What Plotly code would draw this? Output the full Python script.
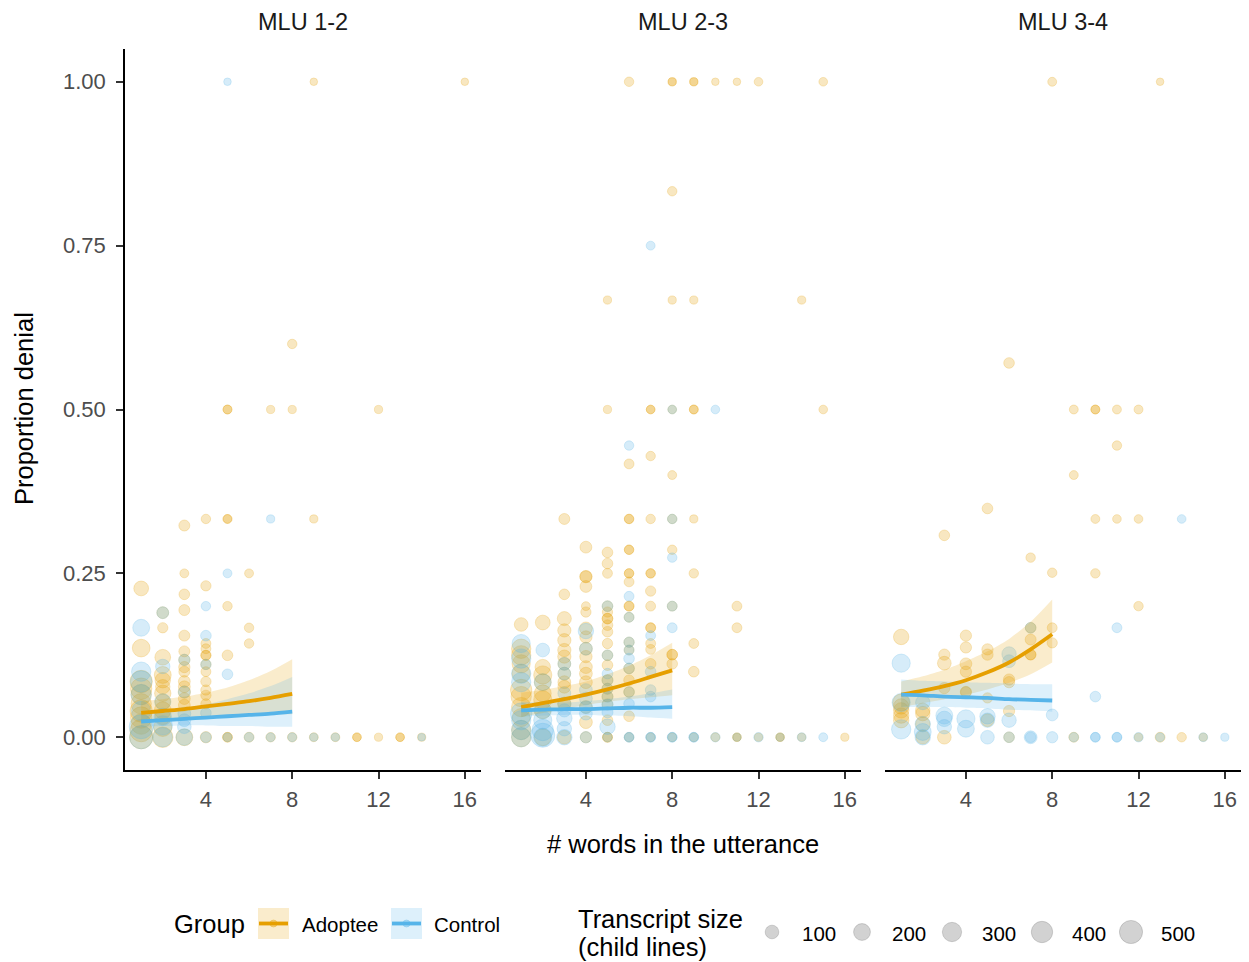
import plotly.graph_objects as go

W, H = 1249, 962
FONT = "Liberation Sans, Arial, Helvetica, sans-serif"

PANELS = ["MLU 1-2", "MLU 2-3", "MLU 3-4"]
GROUPS = ["Adoptee", "Control"]
X_TICKS = [4, 8, 12, 16]
Y_TICKS = [0.0, 0.25, 0.50, 0.75, 1.00]
SIZE_BREAKS = [100, 200, 300, 400, 500]

# one row per transcript and utterance length: (words, proportion denial, child lines)
ADOPTEE_MLU12 = [
    (9, 1.0, 12), (16, 1.0, 12), (8, 0.6, 25),
    (5, 0.5, 20), (5, 0.5, 20), (7, 0.5, 15), (8, 0.5, 15), (12, 0.5, 15),
    (4, 0.333, 25), (5, 0.333, 20), (5, 0.333, 20), (9, 0.333, 15), (3, 0.323, 45),
    (3, 0.25, 20), (6, 0.25, 20), (4, 0.231, 35), (1, 0.227, 130), (3, 0.218, 40),
    (5, 0.2, 25), (3, 0.194, 45), (2, 0.19, 60), (2, 0.167, 35), (6, 0.167, 25),
    (3, 0.155, 45), (4, 0.143, 30), (6, 0.143, 25), (1, 0.136, 230), (4, 0.135, 30),
    (3, 0.131, 45), (4, 0.125, 35), (4, 0.125, 30), (5, 0.125, 40), (2, 0.122, 160),
    (3, 0.118, 50), (4, 0.111, 35), (3, 0.107, 50), (3, 0.1, 45), (4, 0.1, 30),
    (2, 0.095, 200), (1, 0.085, 450), (2, 0.087, 150), (3, 0.085, 60), (4, 0.085, 35),
    (1, 0.074, 400), (2, 0.077, 120), (3, 0.077, 60), (4, 0.072, 35), (2, 0.067, 180),
    (3, 0.069, 70), (1, 0.065, 350), (4, 0.064, 35), (3, 0.059, 60), (1, 0.051, 350),
    (2, 0.054, 150), (4, 0.051, 35), (3, 0.049, 60), (1, 0.04, 450), (2, 0.041, 200),
    (1, 0.03, 400), (1, 0.02, 350), (2, 0.031, 150), (1, 0.01, 450), (2, 0.015, 250),
    (1, 0.0, 500), (2, 0.0, 350), (3, 0.0, 200), (4, 0.0, 50), (5, 0.0, 30), (5, 0.0, 25),
    (6, 0.0, 30), (7, 0.0, 25), (8, 0.0, 25), (9, 0.0, 20), (10, 0.0, 20), (11, 0.0, 18),
    (11, 0.0, 18), (12, 0.0, 15), (13, 0.0, 18), (13, 0.0, 18), (14, 0.0, 15),
]
CONTROL_MLU12 = [
    (5, 1.0, 12), (7, 0.333, 15), (5, 0.25, 20), (4, 0.2, 25), (2, 0.19, 60),
    (1, 0.167, 200), (4, 0.155, 40), (4, 0.111, 35), (2, 0.108, 120), (1, 0.1, 300),
    (5, 0.096, 40), (1, 0.085, 400), (3, 0.118, 50), (3, 0.069, 60),
    (1, 0.065, 350), (2, 0.054, 180), (4, 0.037, 40), (3, 0.036, 80),
    (3, 0.026, 80), (2, 0.031, 220), (1, 0.04, 300), (1, 0.016, 550), (2, 0.018, 300),
    (3, 0.016, 100),
    (1, 0.0, 500), (2, 0.0, 300), (3, 0.0, 180), (4, 0.0, 40), (5, 0.0, 20), (6, 0.0, 25),
    (7, 0.0, 20), (8, 0.0, 20), (9, 0.0, 15), (10, 0.0, 15), (14, 0.0, 12),
]

ADOPTEE_MLU23 = [
    (6, 1.0, 25), (8, 1.0, 15), (8, 1.0, 15), (9, 1.0, 15), (9, 1.0, 15), (10, 1.0, 12),
    (11, 1.0, 12), (12, 1.0, 18), (15, 1.0, 18), (8, 0.833, 25),
    (5, 0.667, 15), (8, 0.667, 15), (9, 0.667, 15), (14, 0.667, 15),
    (5, 0.5, 15), (7, 0.5, 18), (7, 0.5, 18), (8, 0.5, 18), (9, 0.5, 20), (9, 0.5, 20),
    (15, 0.5, 18), (7, 0.429, 25), (6, 0.417, 30), (8, 0.4, 20),
    (3, 0.333, 45), (6, 0.333, 25), (6, 0.333, 25), (7, 0.333, 25), (8, 0.333, 25),
    (9, 0.333, 15), (4, 0.29, 60), (6, 0.286, 25), (6, 0.286, 25), (8, 0.286, 25),
    (5, 0.282, 40), (5, 0.265, 40), (5, 0.25, 30), (6, 0.25, 25), (6, 0.25, 25),
    (7, 0.25, 25), (7, 0.25, 25), (9, 0.25, 25), (4, 0.245, 70), (4, 0.245, 60),
    (6, 0.237, 30), (4, 0.23, 60), (7, 0.223, 35), (3, 0.218, 40),
    (4, 0.2, 20), (5, 0.2, 40), (6, 0.2, 30), (6, 0.2, 30), (7, 0.2, 30), (8, 0.2, 30),
    (11, 0.2, 30), (4, 0.191, 35), (5, 0.191, 35), (5, 0.181, 40), (5, 0.181, 40),
    (6, 0.183, 30), (3, 0.181, 110), (1, 0.172, 100), (2, 0.175, 130), (5, 0.171, 40),
    (7, 0.167, 30), (7, 0.167, 30), (11, 0.167, 30), (4, 0.166, 80), (3, 0.163, 90),
    (5, 0.161, 40), (4, 0.153, 70), (3, 0.148, 90), (5, 0.143, 35), (7, 0.143, 30),
    (9, 0.143, 30), (6, 0.145, 35), (4, 0.135, 80), (1, 0.135, 300), (3, 0.133, 90),
    (7, 0.134, 30), (6, 0.133, 30), (1, 0.125, 300), (4, 0.123, 70), (3, 0.123, 90),
    (8, 0.126, 40), (8, 0.126, 40), (5, 0.125, 40), (1, 0.112, 250), (3, 0.112, 80),
    (5, 0.11, 40), (7, 0.112, 40), (8, 0.112, 40), (2, 0.107, 150), (4, 0.107, 80),
    (6, 0.105, 40), (3, 0.097, 80), (1, 0.097, 250), (2, 0.095, 250), (4, 0.097, 80),
    (9, 0.1, 40), (5, 0.087, 45), (6, 0.087, 40), (2, 0.084, 200), (3, 0.084, 80),
    (4, 0.084, 80), (3, 0.077, 80), (1, 0.072, 400), (5, 0.074, 45), (6, 0.069, 40),
    (2, 0.067, 200), (1, 0.062, 350), (5, 0.062, 45), (2, 0.057, 250), (3, 0.051, 90),
    (4, 0.046, 80), (5, 0.05, 45), (1, 0.046, 300), (2, 0.041, 200), (6, 0.032, 40),
    (5, 0.026, 40), (4, 0.023, 80), (1, 0.03, 250), (1, 0.011, 300),
    (1, 0.0, 300), (2, 0.0, 200), (3, 0.0, 100), (4, 0.0, 50), (5, 0.0, 30), (5, 0.0, 30),
    (6, 0.0, 25), (7, 0.0, 20), (8, 0.0, 20), (9, 0.0, 20), (10, 0.0, 20), (11, 0.0, 18),
    (11, 0.0, 15), (12, 0.0, 15), (13, 0.0, 18), (13, 0.0, 15), (14, 0.0, 15), (16, 0.0, 15),
]
CONTROL_MLU23 = [
    (7, 0.75, 20), (6, 0.445, 25), (10, 0.5, 18), (8, 0.5, 18), (8, 0.333, 25),
    (8, 0.274, 25), (6, 0.215, 30), (5, 0.2, 40), (8, 0.2, 30), (6, 0.183, 30),
    (4, 0.162, 150), (8, 0.167, 30), (7, 0.155, 30), (1, 0.143, 250), (6, 0.145, 35),
    (2, 0.133, 100), (4, 0.135, 80), (6, 0.133, 30), (5, 0.125, 40), (6, 0.12, 40),
    (1, 0.12, 300), (3, 0.112, 80), (1, 0.097, 300), (3, 0.097, 80), (7, 0.1, 40),
    (6, 0.105, 40), (5, 0.097, 40), (5, 0.087, 45), (1, 0.084, 300), (2, 0.084, 200),
    (5, 0.074, 45), (4, 0.072, 80), (7, 0.072, 40), (6, 0.069, 40), (3, 0.067, 80),
    (5, 0.062, 45), (7, 0.062, 40), (4, 0.059, 80), (6, 0.051, 40), (3, 0.051, 90),
    (5, 0.05, 45), (4, 0.046, 80), (2, 0.041, 200), (3, 0.041, 90), (5, 0.038, 45),
    (1, 0.036, 400), (4, 0.036, 80), (3, 0.029, 150), (1, 0.026, 300), (2, 0.026, 250),
    (5, 0.016, 150), (3, 0.013, 120), (2, 0.011, 400), (1, 0.011, 300), (2, 0.003, 550),
    (1, 0.0, 300), (2, 0.0, 250), (3, 0.0, 150), (4, 0.0, 50), (5, 0.0, 25), (6, 0.0, 30),
    (6, 0.0, 25), (7, 0.0, 30), (7, 0.0, 25), (8, 0.0, 30), (8, 0.0, 25), (9, 0.0, 30),
    (9, 0.0, 25), (10, 0.0, 25), (11, 0.0, 15), (12, 0.0, 25), (13, 0.0, 15),
    (14, 0.0, 20), (15, 0.0, 20),
]

ADOPTEE_MLU34 = [
    (8, 1.0, 20), (13, 1.0, 12), (6, 0.571, 40),
    (9, 0.5, 20), (10, 0.5, 20), (10, 0.5, 20), (11, 0.5, 20), (12, 0.5, 20),
    (11, 0.445, 25), (9, 0.4, 20), (5, 0.349, 40),
    (10, 0.333, 20), (11, 0.333, 18), (12, 0.333, 18), (3, 0.308, 40), (7, 0.274, 25),
    (8, 0.251, 25), (10, 0.25, 25), (12, 0.2, 25), (7, 0.167, 40), (8, 0.167, 30),
    (1, 0.153, 150), (4, 0.155, 50), (7, 0.149, 45), (8, 0.144, 35), (4, 0.137, 50),
    (5, 0.134, 50), (5, 0.126, 50), (7, 0.126, 40), (7, 0.126, 40), (3, 0.126, 50),
    (3, 0.113, 100), (4, 0.112, 60), (4, 0.1, 50), (6, 0.088, 50), (6, 0.084, 50),
    (3, 0.075, 50), (4, 0.069, 50), (4, 0.069, 40), (5, 0.06, 35), (1, 0.053, 200),
    (1, 0.047, 150), (1, 0.041, 150), (1, 0.033, 150), (1, 0.026, 150),
    (2, 0.041, 120), (2, 0.036, 120), (2, 0.02, 120), (6, 0.04, 50), (5, 0.026, 80),
    (2, 0.0, 100), (3, 0.0, 100), (6, 0.0, 40), (9, 0.0, 30), (12, 0.0, 15),
    (13, 0.0, 30), (14, 0.0, 25), (15, 0.0, 15),
]
CONTROL_MLU34 = [
    (14, 0.333, 18), (11, 0.167, 30), (7, 0.167, 40), (6, 0.127, 120), (6, 0.116, 80),
    (1, 0.113, 250), (10, 0.062, 40), (1, 0.053, 250), (2, 0.053, 120), (8, 0.034, 60),
    (3, 0.033, 200), (3, 0.028, 150), (4, 0.028, 250), (4, 0.013, 200), (5, 0.032, 150),
    (5, 0.026, 120), (6, 0.026, 120), (1, 0.012, 300), (2, 0.02, 150), (2, 0.008, 200),
    (3, 0.016, 120), (2, 0.0, 150), (5, 0.0, 100), (6, 0.0, 40), (7, 0.0, 80),
    (7, 0.0, 40), (8, 0.0, 50), (9, 0.0, 25), (10, 0.0, 30), (10, 0.0, 25), (11, 0.0, 30),
    (11, 0.0, 25), (12, 0.0, 25), (13, 0.0, 20), (15, 0.0, 20), (16, 0.0, 15),
]

# logistic smooth (fit with 95% band), evaluated at 1..8 words
FIT_WORDS = [1, 2, 3, 4, 5, 6, 7, 8]
ADOPTEE_FIT = [
    [0.037, 0.040, 0.043, 0.047, 0.051, 0.055, 0.060, 0.066],
    [0.046, 0.052, 0.058, 0.065, 0.073, 0.082, 0.092, 0.102],
    [0.065, 0.071, 0.078, 0.087, 0.099, 0.114, 0.134, 0.157],
]
ADOPTEE_LO = [
    [0.024, 0.027, 0.030, 0.032, 0.034, 0.035, 0.035, 0.035],
    [0.031, 0.037, 0.043, 0.049, 0.054, 0.058, 0.061, 0.064],
    [0.046, 0.052, 0.058, 0.065, 0.073, 0.083, 0.096, 0.114],
]
ADOPTEE_HI = [
    [0.055, 0.058, 0.062, 0.068, 0.076, 0.087, 0.101, 0.119],
    [0.068, 0.072, 0.078, 0.085, 0.096, 0.109, 0.125, 0.144],
    [0.085, 0.093, 0.103, 0.116, 0.131, 0.150, 0.176, 0.210],
]
CONTROL_FIT = [
    [0.024, 0.026, 0.028, 0.030, 0.032, 0.034, 0.036, 0.039],
    [0.041, 0.042, 0.043, 0.043, 0.044, 0.045, 0.045, 0.046],
    [0.065, 0.064, 0.062, 0.061, 0.060, 0.058, 0.057, 0.056],
]
CONTROL_LO = [
    [0.016, 0.017, 0.018, 0.018, 0.017, 0.017, 0.016, 0.016],
    [0.031, 0.033, 0.034, 0.034, 0.033, 0.032, 0.030, 0.028],
    [0.046, 0.046, 0.046, 0.045, 0.044, 0.042, 0.041, 0.039],
]
CONTROL_HI = [
    [0.036, 0.039, 0.044, 0.050, 0.058, 0.067, 0.078, 0.092],
    [0.054, 0.053, 0.053, 0.055, 0.058, 0.062, 0.067, 0.073],
    [0.088, 0.086, 0.085, 0.084, 0.083, 0.082, 0.081, 0.081],
]

POINTS = {
    "Adoptee": [ADOPTEE_MLU12, ADOPTEE_MLU23, ADOPTEE_MLU34],
    "Control": [CONTROL_MLU12, CONTROL_MLU23, CONTROL_MLU34],
}
FITS = {
    "Adoptee": (ADOPTEE_FIT, ADOPTEE_LO, ADOPTEE_HI),
    "Control": (CONTROL_FIT, CONTROL_LO, CONTROL_HI),
}
RGB = {"Adoptee": (230, 159, 0), "Control": (86, 180, 233)}
POINT_ALPHA = 0.34
BAND_ALPHA = 0.2


def rgba(rgb, a):
    return "rgba(%d,%d,%d,%.3f)" % (rgb[0], rgb[1], rgb[2], a)


# area-style size scale over the transcript-size range
LINES_MIN, LINES_MAX = 10, 550


def diameter(lines):
    t = max(0.0, (lines - LINES_MIN) / (LINES_MAX - LINES_MIN)) ** 0.5
    return 6.5 + 17.5 * t


# layout geometry in pixels
PANEL_LEFT = [125, 505, 885]
PANEL_W = 356
PLOT_TOP, PLOT_BOTTOM = 49, 770


def fx(px):
    return px / W


def fy(py):
    return 1 - py / H


def axis_names(i):
    return ("x", "y") if i == 0 else ("x%d" % (i + 1), "y%d" % (i + 1))


fig = go.Figure()

# points
for i in range(3):
    xa, ya = axis_names(i)
    for g in GROUPS:
        pts = POINTS[g][i]
        fig.add_trace(go.Scatter(
            x=[p[0] for p in pts], y=[p[1] for p in pts],
            mode="markers", xaxis=xa, yaxis=ya, showlegend=False, hoverinfo="skip",
            marker=dict(size=[diameter(p[2]) for p in pts],
                        color=rgba(RGB[g], POINT_ALPHA),
                        line=dict(color=rgba(RGB[g], POINT_ALPHA), width=1)),
        ))

# confidence bands
for i in range(3):
    xa, ya = axis_names(i)
    for g in GROUPS:
        fit, lo, hi = FITS[g]
        fig.add_trace(go.Scatter(
            x=FIT_WORDS, y=lo[i], mode="lines",
            line=dict(width=0, shape="spline", smoothing=0.8),
            xaxis=xa, yaxis=ya, showlegend=False, hoverinfo="skip",
        ))
        fig.add_trace(go.Scatter(
            x=FIT_WORDS, y=hi[i], mode="lines", fill="tonexty",
            fillcolor=rgba(RGB[g], BAND_ALPHA),
            line=dict(width=0, shape="spline", smoothing=0.8),
            xaxis=xa, yaxis=ya, showlegend=False, hoverinfo="skip",
        ))

# fitted lines
for i in range(3):
    xa, ya = axis_names(i)
    for g in GROUPS:
        fit = FITS[g][0]
        fig.add_trace(go.Scatter(
            x=FIT_WORDS, y=fit[i], mode="lines",
            line=dict(color=rgba(RGB[g], 1), width=3.8, shape="spline", smoothing=0.8),
            xaxis=xa, yaxis=ya, showlegend=False, hoverinfo="skip",
        ))

layout = dict(
    width=W, height=H, margin=dict(l=0, r=0, t=0, b=0),
    paper_bgcolor="white", plot_bgcolor="white",
    font=dict(family=FONT, color="black"),
    showlegend=False,
)
ydom = [fy(PLOT_BOTTOM), fy(PLOT_TOP)]
for i in range(3):
    sx = "" if i == 0 else str(i + 1)
    layout["xaxis" + sx] = dict(
        domain=[fx(PANEL_LEFT[i]), fx(PANEL_LEFT[i] + PANEL_W)],
        range=[0.25, 16.75], anchor="y" + sx,
        tickvals=X_TICKS, ticktext=[str(v) for v in X_TICKS],
        showline=True, linecolor="black", linewidth=1.6,
        ticks="outside", ticklen=7, tickwidth=1.6, tickcolor="#333333",
        tickfont=dict(size=22, color="#4D4D4D", family=FONT),
        ticklabelstandoff=2,
        showgrid=False, zeroline=False, fixedrange=True,
    )
    ydict = dict(
        domain=ydom, range=[-0.05, 1.05], anchor="x" + sx,
        showgrid=False, zeroline=False, fixedrange=True,
    )
    if i == 0:
        ydict.update(
            tickvals=Y_TICKS, ticktext=["%.2f" % v for v in Y_TICKS],
            showline=True, linecolor="black", linewidth=1.6,
            ticks="outside", ticklen=7, tickwidth=1.6, tickcolor="#333333",
            tickfont=dict(size=22, color="#4D4D4D", family=FONT),
            ticklabelstandoff=6,
        )
    else:
        ydict.update(showticklabels=False, showline=False, ticks="")
    layout["yaxis" + sx] = ydict

# legend canvas: a hidden axis pair spanning the bottom strip in pixel units
LEG_TOP = 862
layout["xaxis4"] = dict(domain=[0, 1], range=[0, W], visible=False, fixedrange=True, anchor="y4")
layout["yaxis4"] = dict(domain=[0, fy(LEG_TOP)], range=[H, LEG_TOP], visible=False,
                        fixedrange=True, anchor="x4")

fig.update_layout(**layout)

ann = []
# facet strip labels
for i, name in enumerate(PANELS):
    ann.append(dict(text=name, x=fx(PANEL_LEFT[i] + PANEL_W / 2), y=fy(22),
                    xref="paper", yref="paper", xanchor="center", yanchor="middle",
                    showarrow=False, font=dict(size=23.5, color="#1A1A1A", family=FONT)))
ann.append(dict(text="# words in the utterance", x=fx(683), y=fy(844), xref="paper", yref="paper",
                xanchor="center", yanchor="middle", showarrow=False,
                font=dict(size=25.5, color="black", family=FONT)))
ann.append(dict(text="Proportion denial", x=fx(24), y=fy(409), xref="paper", yref="paper",
                xanchor="center", yanchor="middle", textangle=-90, showarrow=False,
                font=dict(size=25.5, color="black", family=FONT)))

# Group legend
ann.append(dict(text="Group", x=fx(172), y=fy(924), xref="paper", yref="paper",
                xanchor="left", yanchor="middle", showarrow=False,
                font=dict(size=25.5, color="black", family=FONT)))
shapes = []
key_left = {"Adoptee": 258, "Control": 391}
label_left = {"Adoptee": 300, "Control": 432}
for g in GROUPS:
    kl = key_left[g]
    shapes.append(dict(type="rect", xref="paper", yref="paper",
                       x0=fx(kl), x1=fx(kl + 31), y0=fy(939), y1=fy(908),
                       fillcolor=rgba(RGB[g], BAND_ALPHA), line=dict(width=0), layer="above"))
    shapes.append(dict(type="line", xref="paper", yref="paper",
                       x0=fx(kl + 1), x1=fx(kl + 30), y0=fy(923.5), y1=fy(923.5),
                       line=dict(color=rgba(RGB[g], 1), width=3.8), layer="above"))
    fig.add_trace(go.Scatter(
        x=[kl + 15.5], y=[923.5], mode="markers", xaxis="x4", yaxis="y4",
        showlegend=False, hoverinfo="skip",
        marker=dict(size=7, color=rgba(RGB[g], POINT_ALPHA),
                    line=dict(color=rgba(RGB[g], POINT_ALPHA), width=1)),
    ))
    ann.append(dict(text=g, x=fx(label_left[g]), y=fy(924), xref="paper", yref="paper",
                    xanchor="left", yanchor="middle", showarrow=False,
                    font=dict(size=20.5, color="black", family=FONT)))

# transcript size legend
ann.append(dict(text="Transcript size", x=fx(576), y=fy(919), xref="paper", yref="paper",
                xanchor="left", yanchor="middle", showarrow=False,
                font=dict(size=25.5, color="black", family=FONT)))
ann.append(dict(text="(child lines)", x=fx(576), y=fy(947), xref="paper", yref="paper",
                xanchor="left", yanchor="middle", showarrow=False,
                font=dict(size=25.5, color="black", family=FONT)))
SIZE_KEY_X = [772, 862, 952, 1042, 1131]
fig.add_trace(go.Scatter(
    x=SIZE_KEY_X, y=[932] * len(SIZE_KEY_X), mode="markers", xaxis="x4", yaxis="y4",
    showlegend=False, hoverinfo="skip",
    marker=dict(size=[diameter(v) for v in SIZE_BREAKS], color="rgba(0,0,0,0.25)",
                line=dict(color="rgba(0,0,0,0.2)", width=1)),
))
for xk, v in zip(SIZE_KEY_X, SIZE_BREAKS):
    ann.append(dict(text=str(v), x=fx(xk + 28), y=fy(933), xref="paper", yref="paper",
                    xanchor="left", yanchor="middle", showarrow=False,
                    font=dict(size=20.5, color="black", family=FONT)))

fig.update_layout(annotations=ann, shapes=shapes)
fig.write_html("out.html")
